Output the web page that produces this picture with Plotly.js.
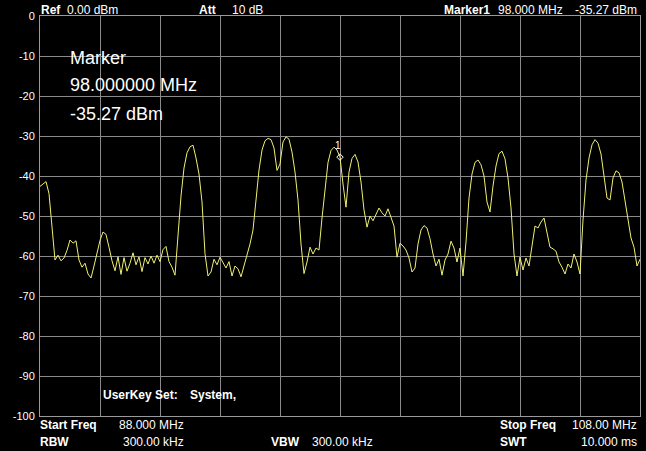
<!DOCTYPE html>
<html>
<head>
<meta charset="utf-8">
<script src="https://cdn.plot.ly/plotly-3.0.1.min.js"></script>
<style>html,body{margin:0;padding:0;background:#000;}#chart{width:646px;height:451px;}</style>
</head>
<body>
<div id="chart"></div>
<script>
// Sweep definition
const startFreq = 88.0;   // MHz
const stopFreq = 108.0;   // MHz
// Trace amplitude (dBm), 201 points across the sweep (0.1 MHz step)
const traceDbm = [
  -42.6, -42.0, -41.4, -44.4, -52.5, -61.0, -59.8, -61.2, -60.5, -58.6,
  -56.0, -56.8, -56.2, -61.0, -62.8, -61.8, -64.5, -65.5, -62.5, -59.4,
  -56.1, -54.0, -54.6, -57.8, -61.2, -63.7, -60.2, -64.6, -60.4, -63.8,
  -61.8, -59.2, -62.2, -60.2, -63.9, -60.4, -62.0, -60.0, -61.8, -59.8,
  -61.4, -58.4, -57.6, -61.4, -62.8, -64.8, -54.0, -45.0, -38.0, -34.2,
  -32.7, -32.3, -35.5, -39.5, -46.5, -59.4, -65.0, -64.0, -60.8, -62.2,
  -60.3, -61.5, -63.0, -61.4, -65.0, -62.5, -63.2, -65.2, -62.5, -60.0,
  -57.0, -53.5, -46.5, -38.5, -33.5, -31.2, -30.6, -30.9, -33.0, -38.6,
  -37.0, -31.5, -30.2, -30.8, -34.0, -39.0, -46.0, -57.0, -64.4, -61.5,
  -57.8, -59.5, -58.0, -58.5, -50.5, -42.8, -36.6, -33.6, -32.8, -33.5,
  -35.27, -42.0, -47.8, -39.0, -35.6, -34.6, -36.5, -41.5, -48.5, -52.8,
  -50.0, -51.2, -49.5, -48.0, -49.2, -50.0, -48.2, -50.5, -52.5, -60.3,
  -56.8, -57.5, -58.5, -60.5, -64.0, -63.0, -57.0, -53.5, -52.4, -53.0,
  -55.7, -59.5, -62.5, -60.8, -64.8, -61.0, -59.5, -56.3, -58.0, -61.5,
  -58.0, -65.0, -56.5, -45.5, -39.5, -36.6, -36.0, -37.2, -40.0, -46.5,
  -49.0, -42.5, -37.5, -34.4, -33.8, -35.7, -40.5, -48.0, -59.5, -65.0,
  -60.3, -63.5, -60.5, -62.5, -57.5, -52.5, -53.0, -51.5, -50.5, -54.0,
  -57.8, -58.2, -58.8, -61.5, -62.8, -64.5, -62.0, -63.0, -59.5, -61.5,
  -64.5, -51.0, -41.0, -35.5, -32.2, -30.9, -31.8, -34.5, -39.5, -45.5,
  -46.0, -40.5, -38.7, -39.2, -41.5, -46.1, -50.5, -55.5, -57.8, -62.5,
  -60.8
];
const markerFreq = [98.0];
const markerDbm = [-35.27];
const yTickVals = [0, -10, -20, -30, -40, -50, -60, -70, -80, -90, -100];
const yTickText = ["0", "-10", "-20", "-30", "-40", "-50", "-60", "-70", "-80", "-90", "-100"];

const n = traceDbm.length;
const freqs = traceDbm.map((_, i) => startFreq + i * (stopFreq - startFreq) / (n - 1));

const W = 646, H = 451;
const M = {l: 40, r: 6, t: 16, b: 35};
const pw = W - M.l - M.r, ph = H - M.t - M.b;
const px = x => (x - M.l) / pw;
const py = y => (H - M.b - y) / ph;

const FONT = "Liberation Sans, Arial, sans-serif";
function txt(x, y, text, opts) {
  opts = opts || {};
  return {
    xref: 'paper', yref: 'paper', x: px(x), y: py(y),
    xanchor: opts.xanchor || 'left', yanchor: 'middle',
    text: opts.bold ? '<b>' + text + '</b>' : text,
    showarrow: false,
    font: {family: FONT, size: opts.size || 12, color: '#ffffff'}
  };
}

const annotations = [
  txt(39, 10, 'Ref', {bold: true}),
  txt(65, 10, '0.00 dBm'),
  txt(197, 10, 'Att', {bold: true}),
  txt(230, 10, '10 dB'),
  txt(442, 10, 'Marker1', {bold: true}),
  txt(565, 10, '98.000 MHz', {xanchor: 'right'}),
  txt(639, 10, '-35.27 dBm', {xanchor: 'right'}),
  txt(68, 58, 'Marker', {size: 18}),
  txt(68, 85, '98.000000 MHz', {size: 18}),
  txt(68, 114, '-35.27 dBm', {size: 18}),
  txt(101, 395, 'UserKey Set:', {bold: true}),
  txt(188, 395, 'System,', {bold: true}),
  txt(38, 425, 'Start Freq', {bold: true}),
  txt(186, 425, '88.000 MHz', {xanchor: 'right'}),
  txt(38, 442, 'RBW', {bold: true}),
  txt(186, 442, '300.00 kHz', {xanchor: 'right'}),
  txt(269, 442, 'VBW', {bold: true}),
  txt(375, 442, '300.00 kHz', {xanchor: 'right'}),
  txt(498, 425, 'Stop Freq', {bold: true}),
  txt(639, 425, '108.00 MHz', {xanchor: 'right'}),
  txt(498, 442, 'SWT', {bold: true}),
  txt(639, 442, '10.000 ms', {xanchor: 'right'}),
  {
    x: markerFreq[0], y: markerDbm[0], xref: 'x', yref: 'y',
    text: '1', showarrow: false, yshift: 12, xshift: -2,
    font: {family: FONT, size: 10, color: '#ffffff'}
  }
];

const data = [
  {
    x: freqs, y: traceDbm, type: 'scatter', mode: 'lines',
    line: {color: '#f0f070', width: 1},
    hoverinfo: 'skip'
  },
  {
    x: markerFreq, y: markerDbm, type: 'scatter', mode: 'markers',
    marker: {symbol: 'diamond-open', size: 5, color: '#ffffff', line: {width: 1, color: '#ffffff'}},
    hoverinfo: 'skip'
  }
];

const layout = {
  width: W, height: H,
  margin: M,
  paper_bgcolor: '#000000', plot_bgcolor: '#000000',
  showlegend: false,
  xaxis: {
    range: [startFreq, stopFreq], dtick: 2, tick0: startFreq,
    showticklabels: false, ticks: '',
    showgrid: true, gridcolor: '#8a8a8a', gridwidth: 1,
    zeroline: false, showline: true, linecolor: '#9a9a9a', linewidth: 1, mirror: true
  },
  yaxis: {
    range: [-100, 0], tickvals: yTickVals, ticktext: yTickText,
    ticks: '', ticklabelstandoff: 2,
    tickfont: {family: FONT, size: 11, color: '#ffffff'},
    showgrid: true, gridcolor: '#8a8a8a', gridwidth: 1,
    zeroline: false, showline: true, linecolor: '#9a9a9a', linewidth: 1, mirror: true
  },
  annotations: annotations
};

Plotly.newPlot('chart', data, layout, {staticPlot: true, displayModeBar: false});
</script>
</body>
</html>
